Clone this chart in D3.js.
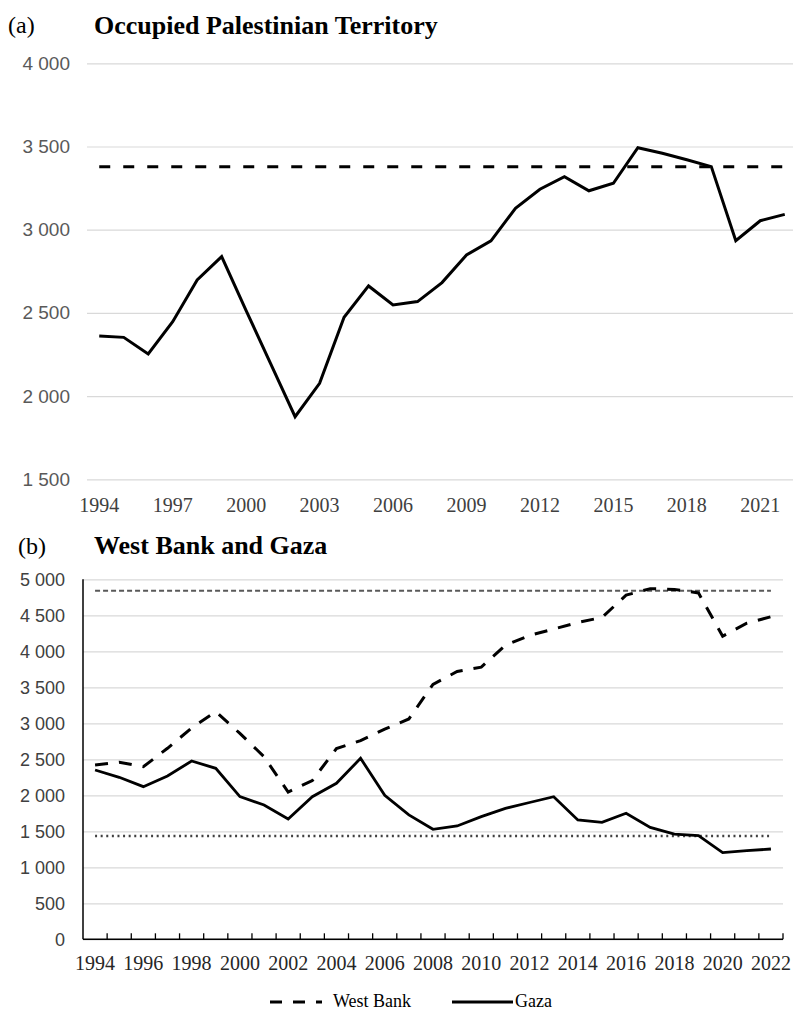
<!DOCTYPE html>
<html>
<head>
<meta charset="utf-8">
<script src="https://cdn.jsdelivr.net/npm/d3@7"></script>
<style>
  html, body { margin: 0; padding: 0; background: #fff; }
  svg { display: block; }
</style>
</head>
<body>
<svg id="chart" width="793" height="1012"></svg>
<script>
// ---------- DATA ----------
const years = d3.range(1994, 2023);
const opt = [2361, 2353, 2253, 2447, 2698, 2838, 2514, 2195, 1876, 2077, 2474, 2662, 2548, 2568, 2682,
             2848, 2933, 3129, 3243, 3319, 3234, 3279, 3493, 3459, 3420, 3379, 2934, 3054, 3092];
const optRef = 3379;
const westBank = [2421, 2460, 2397, 2653, 2934, 3161, 2860, 2536, 2045, 2205, 2650, 2760, 2920, 3060, 3540,
                  3720, 3780, 4085, 4220, 4310, 4400, 4470, 4780, 4870, 4860, 4810, 4210, 4390, 4480];
const westBankRef = 4840;
const gaza = [2351, 2250, 2120, 2268, 2476, 2375, 1981, 1865, 1671, 1981, 2167, 2514, 2000, 1727, 1528,
              1574, 1704, 1819, 1900, 1981, 1657, 1625, 1750, 1555, 1462, 1439, 1203, 1231, 1254];
const gazaRef = 1435;
const topTicksY = [1500, 2000, 2500, 3000, 3500, 4000];
const topTicksX = [1994, 1997, 2000, 2003, 2006, 2009, 2012, 2015, 2018, 2021];
const botTicksY = [0, 500, 1000, 1500, 2000, 2500, 3000, 3500, 4000, 4500, 5000];
const botTicksX = d3.range(1994, 2023, 2);
const legendLabels = ["West Bank", "Gaza"];

const svg = d3.select("#chart");
const fmt = v => d3.format(",")(v).replace(/,/g, " ");
const serif = "'Liberation Serif', 'Times New Roman', serif";
const sans = "'Liberation Sans', Arial, sans-serif";

// ---------- PANEL (a) ----------
svg.append("text").attr("x", 8).attr("y", 33).attr("font-family", serif)
  .attr("font-size", 24).attr("fill", "#000").text("(a)");
svg.append("text").attr("x", 94).attr("y", 34).attr("font-family", serif)
  .attr("font-size", 26).attr("font-weight", "bold").attr("fill", "#000").text("Occupied Palestinian Territory");

const xa = d3.scaleBand().domain(years).range([87, 797]);
const ya = d3.scaleLinear().domain([1500, 4000]).range([479.3, 63.3]);
const ga = svg.append("g");

ga.append("g").attr("transform", "translate(87,0)")
  .call(d3.axisLeft(ya).tickValues(topTicksY).tickSize(-720).tickFormat(fmt))
  .call(g => g.select(".domain").remove())
  .call(g => g.selectAll(".tick line").attr("stroke", "#d9d9d9").attr("stroke-width", 1.2))
  .call(g => g.selectAll(".tick text").attr("x", -17).attr("font-family", sans)
      .attr("font-size", 19).attr("fill", "#595959"));

ga.append("g").attr("transform", "translate(0,479.3)")
  .call(d3.axisBottom(xa).tickValues(topTicksX).tickSize(0))
  .call(g => g.select(".domain").remove())
  .call(g => g.selectAll(".tick text").attr("y", 19).attr("dy", "0.71em").attr("font-family", serif)
      .attr("font-size", 20).attr("fill", "#404040"));

const cx = s => d => s(d) + s.bandwidth() / 2;

ga.append("line")
  .attr("x1", cx(xa)(1994)).attr("x2", cx(xa)(2022))
  .attr("y1", ya(optRef)).attr("y2", ya(optRef))
  .attr("stroke", "#000").attr("stroke-width", 3).attr("stroke-dasharray", "11 13");

ga.append("path").datum(opt)
  .attr("fill", "none").attr("stroke", "#000").attr("stroke-width", 3).attr("stroke-linejoin", "miter")
  .attr("d", d3.line().x((d, i) => cx(xa)(years[i])).y(d => ya(d)));

// ---------- PANEL (b) ----------
svg.append("text").attr("x", 18).attr("y", 554).attr("font-family", serif)
  .attr("font-size", 24).attr("fill", "#000").text("(b)");
svg.append("text").attr("x", 94).attr("y", 554).attr("font-family", serif)
  .attr("font-size", 26).attr("font-weight", "bold").attr("fill", "#000").text("West Bank and Gaza");

const xb = d3.scaleBand().domain(years).range([83, 783]);
const yb = d3.scaleLinear().domain([0, 5000]).range([939.3, 579.3]);
const gb = svg.append("g");

gb.append("g").attr("transform", "translate(83,0)")
  .call(d3.axisLeft(yb).tickValues(botTicksY).tickSize(-700).tickFormat(fmt))
  .call(g => g.select(".domain").remove())
  .call(g => g.selectAll(".tick line").attr("stroke", "#d9d9d9").attr("stroke-width", 1.2))
  .call(g => g.selectAll(".tick text").attr("x", -18).attr("font-family", sans)
      .attr("font-size", 18).attr("fill", "#404040"));

// left axis line
gb.append("line").attr("x1", 83).attr("x2", 83).attr("y1", yb(5000)).attr("y2", yb(0))
  .attr("stroke", "#000").attr("stroke-width", 1.5);

// bottom axis with inward ticks at category boundaries
const xAxisG = gb.append("g").attr("transform", `translate(0,${yb(0)})`);
xAxisG.append("line").attr("x1", 83).attr("x2", 783).attr("y1", 0).attr("y2", 0)
  .attr("stroke", "#000").attr("stroke-width", 1.5);
xAxisG.selectAll("line.tk").data(years).join("line").attr("class", "tk")
  .attr("x1", d => xb(d) + xb.bandwidth()).attr("x2", d => xb(d) + xb.bandwidth())
  .attr("y1", 0).attr("y2", -6).attr("stroke", "#000").attr("stroke-width", 1.3);
xAxisG.call(d3.axisBottom(xb).tickValues(botTicksX).tickSize(0))
  .call(g => g.select(".domain").remove())
  .call(g => g.selectAll(".tick text").attr("y", 17).attr("dy", "0.71em").attr("font-family", serif)
      .attr("font-size", 20).attr("fill", "#262626"));

// reference lines
gb.append("line")
  .attr("x1", cx(xb)(1994)).attr("x2", cx(xb)(2022))
  .attr("y1", yb(westBankRef)).attr("y2", yb(westBankRef))
  .attr("stroke", "#595959").attr("stroke-width", 2).attr("stroke-dasharray", "5 3");
gb.append("line")
  .attr("x1", cx(xb)(1994)).attr("x2", cx(xb)(2022))
  .attr("y1", yb(gazaRef)).attr("y2", yb(gazaRef))
  .attr("stroke", "#404040").attr("stroke-width", 2.5).attr("stroke-dasharray", "2 3.6");

const lineB = d3.line().x((d, i) => cx(xb)(years[i])).y(d => yb(d));
gb.append("path").datum(westBank)
  .attr("fill", "none").attr("stroke", "#000").attr("stroke-width", 3).attr("stroke-dasharray", "13 11")
  .attr("d", lineB);
gb.append("path").datum(gaza)
  .attr("fill", "none").attr("stroke", "#000").attr("stroke-width", 2.8)
  .attr("d", lineB);

// ---------- LEGEND ----------
const lg = svg.append("g");
lg.append("line").attr("x1", 270).attr("x2", 322).attr("y1", 1002).attr("y2", 1002)
  .attr("stroke", "#000").attr("stroke-width", 3).attr("stroke-dasharray", "12 11");
lg.append("text").attr("x", 333).attr("y", 1007).attr("font-family", serif)
  .attr("font-size", 18).attr("fill", "#000").text(legendLabels[0]);
lg.append("line").attr("x1", 452).attr("x2", 513).attr("y1", 1002).attr("y2", 1002)
  .attr("stroke", "#000").attr("stroke-width", 3);
lg.append("text").attr("x", 515).attr("y", 1007).attr("font-family", serif)
  .attr("font-size", 18).attr("fill", "#000").text(legendLabels[1]);
</script>
</body>
</html>
